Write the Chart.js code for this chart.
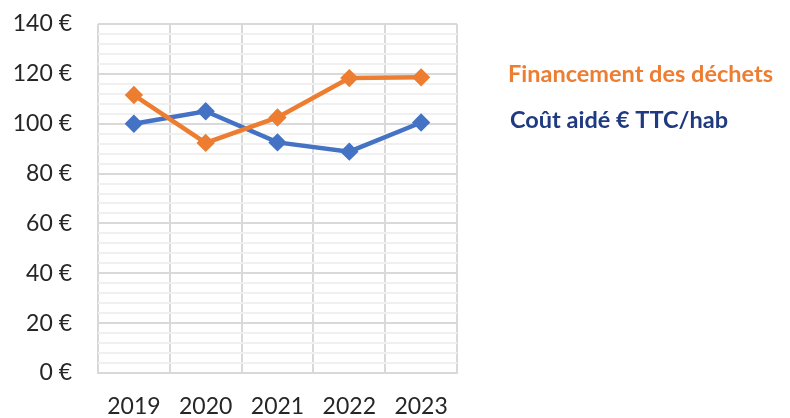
<!DOCTYPE html>
<html>
<head>
<meta charset="utf-8">
<script src="https://cdn.jsdelivr.net/npm/chart.js@4"></script>
<style>
  html, body { margin: 0; padding: 0; background: #fff; }
  #wrap { width: 790px; height: 418px; }
</style>
</head>
<body>
<div id="wrap"><canvas id="chart"></canvas></div>
<script>
// Data
const years = ['2019', '2020', '2021', '2022', '2023'];
const financement = [111.5, 92.3, 102.5, 118.3, 118.6];
const coutAide = [100, 105, 92.5, 88.8, 100.5];
const seriesLabels = ['Financement des déchets', 'Coût aidé € TTC/hab'];

// Text legend drawn on the right
const textLegend = {
  id: 'textLegend',
  afterDraw(chart) {
    const ctx = chart.ctx;
    ctx.save();
    ctx.font = 'bold 23.5px Lato';
    ctx.textBaseline = 'middle';
    ctx.fillStyle = '#ED7D31';
    ctx.fillText(seriesLabels[0], 508, 74);
    ctx.fillStyle = '#1F3A80';
    ctx.fillText(seriesLabels[1], 510, 120);
    ctx.restore();
  }
};

new Chart(document.getElementById('chart'), {
  type: 'line',
  data: {
    labels: years,
    datasets: [{
      label: seriesLabels[0],
      data: financement,
      borderColor: '#ED7D31',
      backgroundColor: '#ED7D31',
      borderWidth: 4.5,
      pointStyle: 'rectRot',
      pointRadius: 6,
      pointHoverRadius: 6,
      tension: 0
    }, {
      label: seriesLabels[1],
      data: coutAide,
      borderColor: '#4472C4',
      backgroundColor: '#4472C4',
      borderWidth: 4.5,
      pointStyle: 'rectRot',
      pointRadius: 6,
      pointHoverRadius: 6,
      tension: 0
    }]
  },
  options: {
    responsive: true,
    maintainAspectRatio: false,
    animation: false,
    layout: { padding: { top: 24, right: 333, left: 0, bottom: 0 } },
    plugins: {
      legend: { display: false },
      tooltip: { enabled: false }
    },
    scales: {
      x: {
        offset: true,
        grid: { offset: true, color: '#d9d9d9', lineWidth: 2, drawTicks: false },
        border: { color: '#d9d9d9', width: 2 },
        ticks: { color: '#262626', font: { family: 'Lato', size: 23 }, padding: 20 },
        afterFit(scale) { scale.height = 45; scale.paddingLeft = 0; scale.paddingRight = 0; }
      },
      y: {
        min: 0,
        max: 140,
        ticks: {
          stepSize: 4,
          autoSkip: false,
          color: '#262626',
          font: { family: 'Lato', size: 23 },
          padding: 26,
          callback: (v) => (v % 20 === 0 ? v + ' €' : '')
        },
        grid: {
          drawTicks: false,
          lineWidth: 2,
          color: (c) => (c.tick && c.tick.value % 20 === 0 ? '#d9d9d9' : '#f0f0f0')
        },
        border: { display: false },
        afterFit(scale) { scale.width = 98; scale.paddingTop = 0; scale.paddingBottom = 0; }
      }
    }
  },
  plugins: [textLegend]
});
</script>
</body>
</html>
